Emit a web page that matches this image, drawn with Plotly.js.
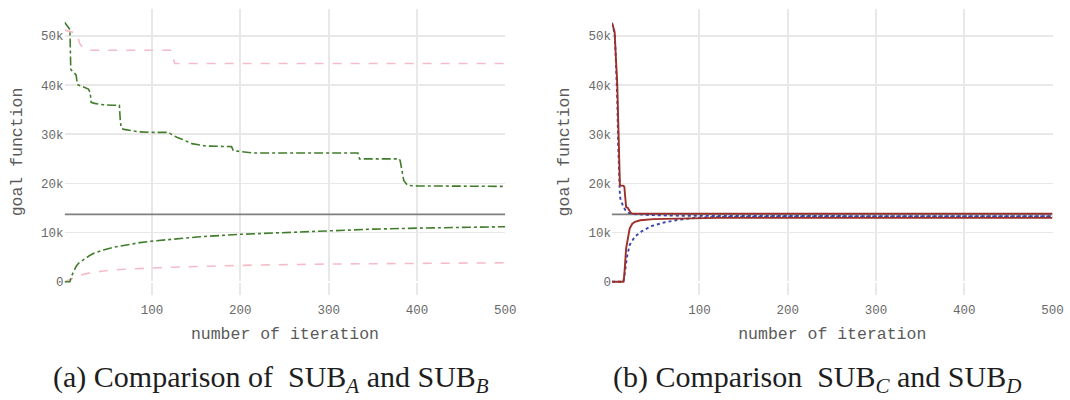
<!DOCTYPE html>
<html>
<head>
<meta charset="utf-8">
<script src="https://cdn.plot.ly/plotly-3.0.1.min.js"></script>
<style>html,body{margin:0;padding:0;background:#fff;}#chart{width:1070px;height:400px;}</style>
</head>
<body>
<div id="chart"></div>
<script>
// ---------- data (panel a) ----------
const referenceValue = 13700;
const iterRange = [1, 500];

const subA_upperIter = [1, 3, 5, 7, 8, 10, 12, 14, 15, 16, 20, 25, 28, 30, 31, 35, 45, 55, 63, 64, 65, 68, 75, 79, 85, 98, 118, 123, 128, 134, 140, 145, 155, 162, 190, 192, 200, 215, 250, 300, 333, 335, 380, 381, 383, 385, 388, 390, 400, 450, 500];
const subA_upper = [52800, 52300, 51800, 51300, 43200, 42800, 42400, 42100, 40800, 40100, 39800, 39400, 39200, 38500, 36500, 36300, 36000, 35900, 35900, 33000, 31300, 31000, 30800, 30600, 30500, 30400, 30400, 29900, 29400, 29000, 28500, 28100, 27800, 27600, 27500, 26700, 26500, 26200, 26200, 26200, 26200, 25000, 25000, 24600, 22300, 20600, 19900, 19600, 19500, 19450, 19400];

const subA_lowerIter = [1, 7, 9, 12, 14, 17, 20, 24, 30, 34, 40, 45, 56, 71, 86, 105, 125, 154, 200, 250, 300, 350, 400, 450, 500];
const subA_lower = [0, 0, 1200, 2500, 3100, 3800, 4200, 4750, 5400, 5800, 6200, 6450, 7000, 7500, 7950, 8350, 8700, 9150, 9650, 10050, 10450, 10700, 10900, 11050, 11200];

const subB_upperIter = [1, 5, 14, 16, 18, 21, 25, 29, 60, 121, 123, 126, 200, 300, 400, 500];
const subB_upper = [51200, 51000, 50600, 49800, 48500, 47800, 47300, 47100, 47100, 47100, 45800, 44400, 44400, 44400, 44400, 44400];

const subB_lowerIter = [1, 5, 10, 14, 20, 27, 45, 64, 86, 107, 150, 219, 300, 400, 500];
const subB_lower = [0, 300, 700, 1000, 1400, 1700, 2200, 2500, 2700, 2850, 3100, 3400, 3600, 3750, 3850];

// ---------- data (panel b) ----------
const subC_upperIter = [1, 2, 3, 4, 5, 6, 7, 8, 9, 10, 14, 15, 16, 17, 19, 20, 21, 22, 23, 24, 30, 100, 500];
const subC_upper = [52700, 52200, 51500, 50800, 47000, 44000, 40000, 33000, 25000, 19600, 19500, 19300, 17200, 15200, 15000, 14600, 14300, 14100, 13950, 13900, 13850, 13850, 13850];

const subC_lowerIter = [1, 14, 15, 16, 17, 19, 21, 24, 27, 33, 38, 48, 61, 75, 98, 121, 200, 500];
const subC_lower = [0, 0, 1500, 4800, 6800, 8800, 10800, 11800, 12200, 12500, 12600, 12750, 12800, 12850, 12900, 13000, 13000, 13000];

const subD_upperIter = [1, 2, 3, 4, 5, 6, 7, 8, 9, 10, 11, 12, 13, 14, 16, 18, 20, 25, 40, 70, 120, 500];
const subD_upper = [52600, 52000, 51300, 50500, 47000, 43000, 37000, 28000, 20500, 17300, 16600, 16000, 15600, 15200, 14600, 14300, 14000, 13800, 13600, 13450, 13380, 13330];

const subD_lowerIter = [1, 14, 16, 18, 21, 27, 35, 46, 61, 76, 98, 121, 200, 300, 500];
const subD_lower = [0, 0, 2400, 5100, 7500, 9200, 10300, 11350, 12100, 12600, 13050, 13200, 13280, 13300, 13300];

const xTickVals = [100, 200, 300, 400, 500];
const yTickVals = [0, 10000, 20000, 30000, 40000, 50000];
const yTickText = ["0", "10k", "20k", "30k", "40k", "50k"];
const xTitle = "number of iteration";
const yTitle = "goal function";
const captionA = "(a) Comparison of  SUB<sub><i>A</i></sub> and SUB<sub><i>B</i></sub>";
const captionB = "(b) Comparison  SUB<sub><i>C</i></sub> and SUB<sub><i>D</i></sub>";

// ---------- styles ----------
const GREEN = "#417d2b", PINK = "#f3bcc7", RED = "#9c3029", BLUE = "#3b46ab", GREY = "#7f7f7f";

function line(x, y, color, dash, width, xa, ya) {
  return {x: x, y: y, type: "scatter", mode: "lines", xaxis: xa, yaxis: ya,
    line: {color: color, dash: dash, width: width}, hoverinfo: "skip", showlegend: false};
}

const traces = [
  line(iterRange, [referenceValue, referenceValue], GREY, "solid", 1.9, "x", "y"),
  line(subB_upperIter, subB_upper, PINK, "dash", 1.6, "x", "y"),
  line(subB_lowerIter, subB_lower, PINK, "dash", 1.6, "x", "y"),
  line(subA_upperIter, subA_upper, GREEN, "dashdot", 1.6, "x", "y"),
  line(subA_lowerIter, subA_lower, GREEN, "dashdot", 1.6, "x", "y"),
  line(iterRange, [referenceValue, referenceValue], GREY, "solid", 1.9, "x2", "y2"),
  line(subD_upperIter, subD_upper, BLUE, "dot", 1.9, "x2", "y2"),
  line(subD_lowerIter, subD_lower, BLUE, "dot", 1.9, "x2", "y2"),
  line(subC_upperIter, subC_upper, RED, "solid", 1.9, "x2", "y2"),
  line(subC_lowerIter, subC_lower, RED, "solid", 1.9, "x2", "y2")
];

const tickFont = {family: "Liberation Mono, Courier New, monospace", size: 12.5, color: "#6a6a6a"};
const titleFont = {family: "Liberation Mono, Courier New, monospace", size: 16.5, color: "#5a5a5a"};

function xAxis(domain, anchor) {
  return {domain: domain, anchor: anchor, range: iterRange, tickvals: xTickVals, ticks: "",
    ticklabelstandoff: 5,
    tickfont: tickFont, showgrid: true, gridcolor: "#e8e8e8", gridwidth: 1.8, zeroline: false,
    showline: false, automargin: false,
    title: {text: xTitle, font: titleFont, standoff: 10}};
}
function yAxis(domain, anchor) {
  return {domain: domain, anchor: anchor, range: [-2700, 55500], tickvals: yTickVals, ticktext: yTickText,
    ticks: "", tickfont: tickFont, showgrid: true, gridcolor: "#e8e8e8", gridwidth: 1.8,
    zeroline: true, zerolinecolor: "#ffffff", zerolinewidth: 2, showline: false, automargin: false,
    title: {text: yTitle, font: titleFont, standoff: 14}};
}

const yDom = [1 - 295 / 400, 1 - 9 / 400];
const capFont = {family: "Liberation Serif, Times New Roman, serif", size: 30, color: "#1e1e1e"};
const layout = {
  width: 1070, height: 400,
  margin: {l: 0, r: 0, t: 0, b: 0},
  paper_bgcolor: "#ffffff", plot_bgcolor: "#ffffff",
  xaxis: xAxis([64.6 / 1070, 505.3 / 1070], "y"),
  yaxis: yAxis(yDom, "x"),
  xaxis2: xAxis([612 / 1070, 1052.5 / 1070], "y2"),
  yaxis2: yAxis(yDom, "x2"),
  annotations: [
    {text: captionA, xref: "paper", yref: "paper", x: 271 / 1070, y: 1 - 379 / 400, xanchor: "center", yanchor: "middle",
      showarrow: false, font: capFont},
    {text: captionB, xref: "paper", yref: "paper", x: 817 / 1070, y: 1 - 379 / 400, xanchor: "center", yanchor: "middle",
      showarrow: false, font: capFont}
  ]
};

Plotly.newPlot("chart", traces, layout, {staticPlot: true, displayModeBar: false});
</script>
</body>
</html>
